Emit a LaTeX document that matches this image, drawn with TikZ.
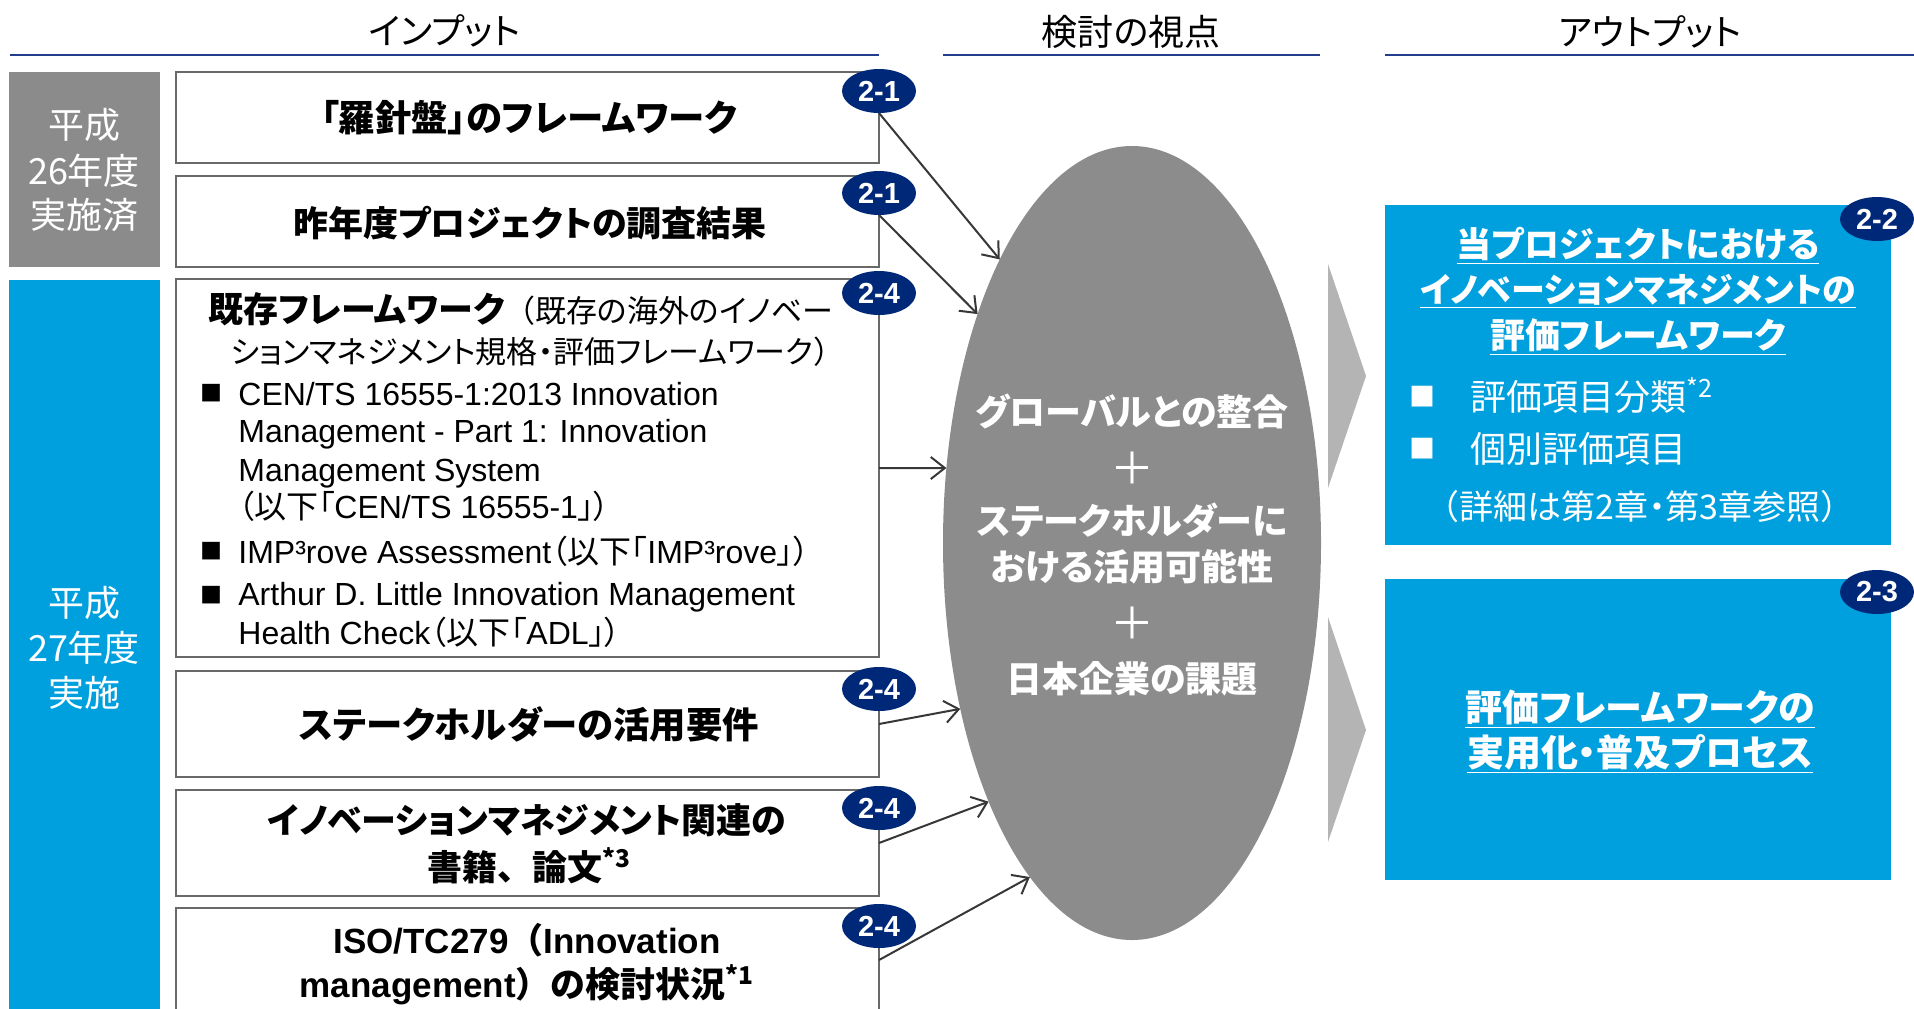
\documentclass[tikz,border=0pt]{standalone}
\usepackage{fontspec}
\setmainfont{Noto Sans CJK JP}[RawFeature=+palt]
\newfontfamily\jpm{Noto Sans CJK JP}
\newfontfamily\lat{Liberation Sans}
\usetikzlibrary{arrows.meta,shapes.geometric}
\definecolor{sidegray}{RGB}{139,139,139}
\definecolor{ellgray}{RGB}{140,140,140}
\definecolor{chevgray}{RGB}{180,180,180}
\definecolor{skyblue}{RGB}{0,160,222}
\definecolor{navy}{RGB}{0,40,120}
\definecolor{hdrline}{RGB}{35,60,140}
\definecolor{boxline}{RGB}{105,105,105}
\definecolor{arrowc}{RGB}{55,55,55}
\begin{document}
\begin{tikzpicture}[x=0.5pt,y=-0.5pt,
  inbox/.style={draw=boxline,line width=1.2pt,fill=white,inner sep=0pt,outer sep=0pt,minimum width=351.5pt},
  sidebox/.style={inner sep=0pt,outer sep=0pt,minimum width=75.5pt},
  outbox/.style={fill=skyblue,inner sep=0pt,outer sep=0pt,minimum width=253pt},
  badge/.style={ellipse,fill=navy,text=white,inner sep=0pt,outer sep=0pt,minimum width=37pt,minimum height=22pt,font=\lat\bfseries\fontsize{14.5pt}{16pt}\selectfont},
  hdr/.style={anchor=base,inner sep=0pt,font=\fontsize{18pt}{20pt}\selectfont},
  boxtitle/.style={anchor=base,inner sep=0pt,font=\bfseries\fontsize{17.5pt}{20pt}\selectfont},
  sidetxt/.style={anchor=base,inner sep=0pt,text=white,font=\fontsize{18pt}{20pt}\selectfont},
  elltxt/.style={anchor=base,inner sep=0pt,text=white,font=\bfseries\fontsize{18pt}{20pt}\selectfont},
  plus/.style={inner sep=0pt,text=white,font=\fontsize{22pt}{24pt}\selectfont},
  item/.style={anchor=base west,inner sep=0pt,font=\fontsize{16pt}{18pt}\selectfont},
  sq/.style={inner sep=0pt,font=\fontsize{11pt}{12pt}\selectfont},
  outtitle/.style={anchor=base,inner sep=0pt,text=white,font=\bfseries\fontsize{17.5pt}{20pt}\selectfont},
  outitem/.style={anchor=base west,inner sep=0pt,text=white,font=\fontsize{18pt}{20pt}\selectfont},
  arr/.style={draw=arrowc,line width=1pt,-{Straight Barb[length=7pt,width=11pt]}},
  hline/.style={draw=hdrline,line width=1.2pt}
]
\useasboundingbox (0,0) rectangle (1914,1008);
\clip (0,0) rectangle (1914,1008);

% headers
\node[hdr] (h1) at (445,44) {インプット};
\node[hdr] (h2) at (1131,45) {検討の視点};
\node[hdr] (h3) at (1650,45) {アウトプット};
\draw[hline] (10,55) -- (879,55);
\draw[hline] (943,55) -- (1320,55);
\draw[hline] (1385,55) -- (1914,55);

% side boxes
\node[sidebox,fill=sidegray,minimum height=97.5pt] (s26) at (84.5,169.5) {};
\node[sidebox,fill=skyblue,minimum height=366pt] (s27) at (84.5,646) {};
\node[sidetxt] (s1) at (84,138) {平成};
\node[sidetxt] (s2) at (84,184) {26年度};
\node[sidetxt] (s3) at (84,228) {実施済};
\node[sidetxt] (s4) at (84,616) {平成};
\node[sidetxt] (s5) at (84,661) {27年度};
\node[sidetxt] (s6) at (84,706) {実施};

% input boxes
\node[inbox,minimum height=45.5pt] (in1) at (527.5,117.5) {};
\node[inbox,minimum height=45.5pt] (in2) at (527.5,221.5) {};
\node[inbox,minimum height=189pt] (in3) at (527.5,468) {};
\node[inbox,minimum height=53pt] (in4) at (527.5,724) {};
\node[inbox,minimum height=53pt] (in5) at (527.5,843) {};
\node[inbox,minimum height=52pt] (in6) at (527.5,960) {};

\node[boxtitle,font=\bfseries\fontsize{18.2pt}{20pt}\selectfont] (t1) at (529,131) {「羅針盤」のフレームワーク};
\node[boxtitle] (t2) at (530,236) {昨年度プロジェクトの調査結果};
\node[anchor=base west,inner sep=0pt] (t3a) at (208,322) {{\bfseries\fontsize{17.5pt}{20pt}\selectfont 既存フレームワーク}{\fontsize{15.5pt}{18pt}\selectfont {\jpm （}既存の海外のイノベー}};
\node[anchor=base west,inner sep=0pt,font=\fontsize{15.5pt}{18pt}\selectfont] (t3b) at (230,363) {ションマネジメント規格・評価フレームワーク{\jpm ）}};
\node[sq] (q1) at (211,393) {■};
\node[sq] (q2) at (211,551) {■};
\node[sq] (q3) at (211,595) {■};
\node[item] (l1) at (238,405) {\lat CEN/TS 16555-1:2013 Innovation};
\node[item] (l2) at (238,442) {\lat Management - Part 1: Innovation};
\node[item] (l3) at (238,481) {\lat Management System};
\node[item] (l4) at (238,518) {（以下「{\lat CEN/TS 16555-1}」）};
\node[item] (l5) at (238,563) {{\lat IMP³rove Assessment}（以下「{\lat IMP³rove}」）};
\node[item] (l6) at (238,605) {\lat Arthur D. Little Innovation Management};
\node[item] (l7) at (238,644) {{\lat Health Check}（以下「{\lat ADL}」）};
\node[boxtitle,font=\bfseries\fontsize{18.2pt}{20pt}\selectfont] (t4) at (529,738) {ステークホルダーの活用要件};
\node[boxtitle] (t5a) at (527,833) {イノベーションマネジメント関連の};
\node[boxtitle] (t5b) at (529,880) {書籍{\jpm 、}論文\textsuperscript{*3}};
\node[boxtitle] (t6a) at (527,953) {{\lat ISO/TC279}{\jpm （}{\lat Innovation}};
\node[boxtitle] (t6b) at (527,997) {{\lat management}{\jpm ）}の検討状況\textsuperscript{*1}};

% centre ellipse
\node[ellipse,fill=ellgray,minimum width=189pt,minimum height=397pt,inner sep=0pt,outer sep=0pt] (ell) at (1132,543) {};
\node[elltxt] (e1) at (1132,425) {グローバルとの整合};
\node[plus] (e2) at (1132,468) {＋};
\node[elltxt] (e3) at (1132,534) {ステークホルダーに};
\node[elltxt] (e4) at (1132,580) {おける活用可能性};
\node[plus] (e5) at (1132,623) {＋};
\node[elltxt] (e6) at (1132,692) {日本企業の課題};

% chevrons
\fill[chevgray] (1328,264) -- (1366,376) -- (1328,488) -- cycle;
\fill[chevgray] (1328,617) -- (1366,730) -- (1328,842) -- cycle;

% output boxes
\node[outbox,minimum height=170pt] (o1) at (1638,375) {};
\node[outbox,minimum height=150.5pt] (o2) at (1638,729.5) {};
\node[outtitle] (o1a) at (1638,257) {\underline{当プロジェクトにおける}};
\node[outtitle,font=\bfseries\fontsize{17pt}{20pt}\selectfont] (o1b) at (1638,302) {\underline{イノベーションマネジメントの}};
\node[outtitle] (o1c) at (1638,348) {\underline{評価フレームワーク}};
\node[sq,text=white,font=\fontsize{13pt}{14pt}\selectfont] (oq1) at (1422,397) {■};
\node[outitem] (oi1) at (1470,410) {評価項目分類\textsuperscript{*2}};
\node[sq,text=white,font=\fontsize{13pt}{14pt}\selectfont] (oq2) at (1422,449) {■};
\node[outitem] (oi2) at (1470,462) {個別評価項目};
\node[anchor=base,inner sep=0pt,text=white,font=\fontsize{17pt}{18pt}\selectfont] (onote) at (1640,519) {{\jpm （}詳細は第2章・第3章参照{\jpm ）}};
\node[outtitle,font=\bfseries\fontsize{18.5pt}{20pt}\selectfont] (o2a) at (1640,721) {\underline{評価フレームワークの}};
\node[outtitle,font=\bfseries\fontsize{18.5pt}{20pt}\selectfont] (o2b) at (1640,766) {\underline{実用化・普及プロセス}};

% badges
\node[badge] (b1) at (879,91) {2-1};
\node[badge] (b2) at (879,193) {2-1};
\node[badge] (b3) at (879,293) {2-4};
\node[badge] (b4) at (879,689) {2-4};
\node[badge] (b5) at (879,808) {2-4};
\node[badge] (b6) at (879,926) {2-4};
\node[badge] (b7) at (1877,219) {2-2};
\node[badge] (b8) at (1877,592) {2-3};

% arrows
\draw[arr] (b1.south) -- (ell.115.6);
\draw[arr] (b2.south) -- (ell.124.9);
\draw[arr] (in3.east) -- (ell.158);
\draw[arr] (in4.east) -- (ell.224.2);
\draw[arr] (in5.east) -- (ell.241.5);
\draw[arr] (in6.east) -- (ell.253.8);
\end{tikzpicture}
\end{document}
